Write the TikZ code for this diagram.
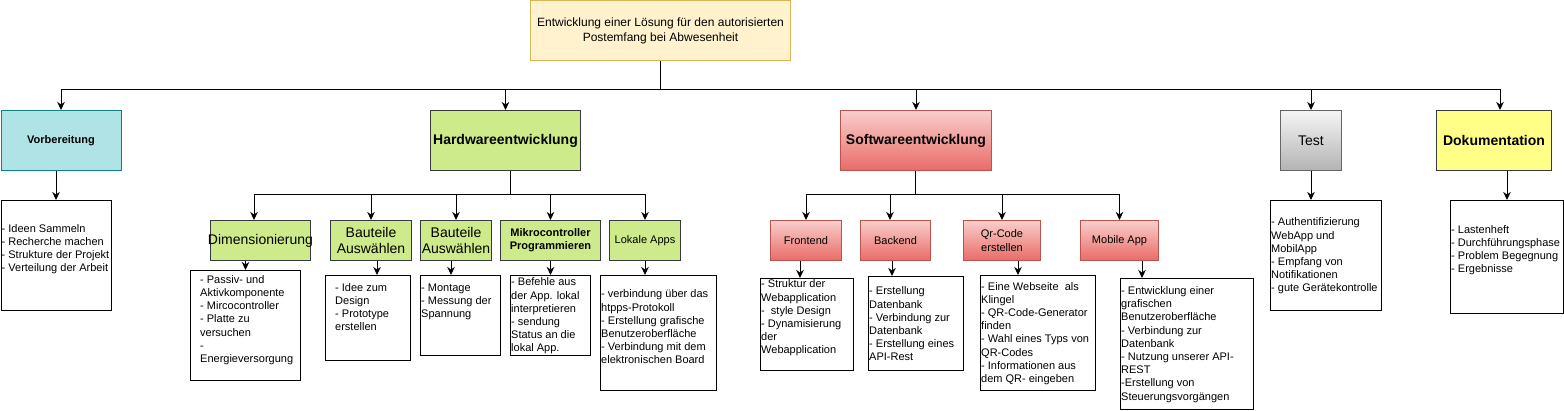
\documentclass[tikz,border=0pt]{standalone}
\usepackage{fontspec}
\setmainfont{Liberation Sans}
\usetikzlibrary{arrows.meta}
\definecolor{rootfill}{HTML}{FFF2CC}
\definecolor{rootdraw}{HTML}{D6B656}
\definecolor{tealfill}{HTML}{B0E3E6}
\definecolor{tealdraw}{HTML}{0E8088}
\definecolor{greenfill}{HTML}{CDEB8B}
\definecolor{darkdraw}{HTML}{36393D}
\definecolor{redtop}{HTML}{F8CECC}
\definecolor{redbot}{HTML}{EA6B66}
\definecolor{reddraw}{HTML}{B85450}
\definecolor{graytop}{HTML}{F5F5F5}
\definecolor{graybot}{HTML}{B3B3B3}
\definecolor{graydraw}{HTML}{666666}
\definecolor{yellowfill}{HTML}{FFFF88}
\tikzset{
  arr/.style={-{Stealth[length=8pt,width=7.5pt,inset=2.5pt]}, line width=1pt},
  conn/.style={line width=1pt},
  box/.style={draw, line width=1pt, inner sep=1pt, align=center, anchor=north west},
  greenbox/.style={box, fill=greenfill, draw=darkdraw},
  redbox/.style={box, top color=redtop, bottom color=redbot, draw=reddraw},
  dbox/.style={draw=black, line width=1pt, anchor=north west, inner sep=0pt},
  dtext/.style={anchor=west, align=left, inner sep=0pt, font=\fontsize{11}{13.2}\selectfont},
  fsmall/.style={font=\fontsize{11}{13.2}\selectfont},
  fsmallb/.style={font=\fontsize{11}{13.2}\selectfont\bfseries},
  fbig/.style={font=\fontsize{14}{16.8}\selectfont},
  fbigb/.style={font=\fontsize{14}{16.8}\selectfont\bfseries}
}
\begin{document}
\begin{tikzpicture}[x=1pt,y=-1pt]
\useasboundingbox (0,0) rectangle (1564,411);

% root
\node[box, fill=rootfill, draw=rootdraw, minimum width=260pt, minimum height=60pt, inner xsep=0pt,
      font=\fontsize{12}{14.4}\selectfont] (root) at (530,0.5)
  {Entwicklung einer Lösung für den autorisierten\\Postemfang bei Abwesenheit};

% level 1
\node[box, fill=tealfill, draw=tealdraw, minimum width=120pt, minimum height=60pt, fsmallb] (vorb) at (0.5,110) {Vorbereitung};
\node[greenbox, minimum width=150pt, minimum height=60pt, fbigb] (hw) at (430,110) {Hardwareentwicklung};
\node[redbox, minimum width=151pt, minimum height=60pt, fbigb] (sw) at (840,110) {Softwareentwicklung};
\node[box, top color=graytop, bottom color=graybot, draw=graydraw, minimum width=61pt, minimum height=60pt, fbig] (test) at (1280,110) {Test};
\node[box, fill=yellowfill, draw=darkdraw, minimum width=115pt, minimum height=60pt, fbigb] (doku) at (1436,110) {Dokumentation};

% hardware subs
\node[greenbox, minimum width=100pt, minimum height=40pt, fbig, inner xsep=-3pt] (dim) at (210,220) {Dimensionierung};
\node[greenbox, minimum width=81pt, minimum height=40pt, fbig] (bt1) at (330,220) {Bauteile\\Auswählen};
\node[greenbox, minimum width=71pt, minimum height=40pt, fbig, inner xsep=0pt] (bt2) at (420,220) {Bauteile\\Auswählen};
\node[greenbox, minimum width=100pt, minimum height=40pt, fsmallb] (mik) at (500,220) {Mikrocontroller\\Programmieren};
\node[greenbox, minimum width=71pt, minimum height=40pt, fsmall] (lok) at (609,220) {Lokale Apps};

% software subs
\node[redbox, minimum width=71pt, minimum height=40pt, fsmall] (fe) at (770,220) {Frontend};
\node[redbox, minimum width=70pt, minimum height=40pt, fsmall] (be) at (860,220) {Backend};
\node[redbox, minimum width=77pt, minimum height=40pt, fsmall] (qr) at (963,220) {Qr-Code\\erstellen};
\node[redbox, minimum width=78pt, minimum height=40pt, fsmall] (ma) at (1080,220) {Mobile App};

% detail boxes
\node[dbox, minimum width=110pt, minimum height=110pt] (vd) at (0.5,200) {};
\node[dtext] (vdt) at (1.5,249) {- Ideen Sammeln\\- Recherche machen\\- Strukture der Projekt\\- Verteilung der Arbeit};

\node[dbox, minimum width=110pt, minimum height=110pt] (dd) at (190,270) {};
\node[dtext] (ddt) at (200,320) {- Passiv- und\\Aktivkomponente\\- Mircocontroller\\- Platte zu\\versuchen\\-\\Energieversorgung};

\node[dbox, minimum width=85pt, minimum height=85pt] (b1d) at (325,275) {};
\node[dtext] (b1dt) at (335,307) {- Idee zum\\Design\\- Prototype\\erstellen};

\node[dbox, minimum width=80pt, minimum height=80pt] (b2d) at (420,275) {};
\node[dtext] (b2dt) at (421,302) {- Montage\\- Messung der\\Spannung};

\node[dbox, minimum width=80pt, minimum height=80pt] (md) at (510,275) {};
\node[dtext] (mdt) at (511,316) {- Befehle aus\\der App. lokal\\interpretieren\\- sendung\\Status an die\\lokal App.};

\node[dbox, minimum width=116pt, minimum height=115pt] (ld) at (600,275) {};
\node[dtext] (ldt) at (601,327) {- verbindung über das\\htpps-Protokoll\\- Erstellung grafische\\Benutzeroberfläche\\- Verbindung mit dem\\elektronischen Board};

\node[dbox, minimum width=93pt, minimum height=92pt] (fd) at (760,278) {};
\node[dtext] (fdt) at (761,318) {- Struktur der\\Webapplication\\-\ \ style Design\\- Dynamisierung\\der\\Webapplication};

\node[dbox, minimum width=95pt, minimum height=94pt] (bd) at (868,276) {};
\node[dtext] (bdt) at (869,324) {- Erstellung\\Datenbank\\- Verbindung zur\\Datenbank\\- Erstellung eines\\API-Rest};

\node[dbox, minimum width=115pt, minimum height=115pt] (qd) at (980,275) {};
\node[dtext] (qdt) at (981,333.5) {- Eine Webseite\ \ als\\Klingel\\- QR-Code-Generator\\finden\\- Wahl eines Typs von\\QR-Codes\\- Informationen aus\\dem QR- eingeben};

\node[dbox, minimum width=133pt, minimum height=131pt] (mad) at (1120,278) {};
\node[dtext] (madt) at (1121,344.5) {- Entwicklung einer\\grafischen\\Benutzeroberfläche\\- Verbindung zur\\Datenbank\\- Nutzung unserer API-\\REST\\-Erstellung von\\Steuerungsvorgängen};

\node[dbox, minimum width=111pt, minimum height=110pt] (td) at (1270,200) {};
\node[dtext] (tdt) at (1271,256) {- Authentifizierung\\WebApp und\\MobilApp\\- Empfang von\\Notifikationen\\- gute Gerätekontrolle};

\node[dbox, minimum width=113pt, minimum height=113pt] (dkd) at (1450,200) {};
\node[dtext] (dkdt) at (1451,250) {- Lastenheft\\- Durchführungsphase\\- Problem Begegnung\\- Ergebnisse};

% top bus
\coordinate (tb) at (660,90);
\draw[conn] (root.south -| tb) -- (tb);
\draw[arr] (tb) -| (vorb.north);
\draw[arr] (tb) -| (hw.north);
\draw[arr] (tb) -| (sw.north);
\draw[arr] (tb) -| (test.north);
\draw[arr] (tb) -| (doku.north -| 1500,0);

% hardware bus
\coordinate (hb) at (510,195);
\draw[conn] (hw.south -| hb) -- (hb);
\draw[arr] (hb) -| (dim.north -| 254,0);
\draw[arr] (hb) -| (bt1.north);
\draw[arr] (hb) -| (bt2.north);
\draw[arr] (hb) -| (mik.north);
\draw[arr] (hb) -| (lok.north);

% software bus
\coordinate (sb) at (915,195);
\draw[conn] (sw.south -| sb) -- (sb);
\draw[arr] (sb) -| (fe.north);
\draw[arr] (sb) -| (be.north -| 890,0);
\draw[arr] (sb) -| (qr.north);
\draw[arr] (sb) -| (ma.north);

% to detail boxes
\draw[arr] (vorb.south -| vd.north) -- (vd.north);
\draw[arr] (dim.south -| dd.north) -- (dd.north);
\draw[arr] (bt1.south -| 377,0) -- (b1d.north -| 377,0);
\draw[arr] (bt2.south -| 451,0) -- (b2d.north -| 451,0);
\draw[arr] (mik.south -| md.north) -- (md.north);
\draw[arr] (lok.south) -- (ld.north -| lok.south);
\draw[arr] (fe.south -| 800,0) -- (fd.north -| 800,0);
\draw[arr] (be.south -| 892,0) -- (bd.north -| 892,0);
\draw[arr] (qr.south -| 1018,0) -- (qd.north -| 1018,0);
\draw[arr] (ma.south -| 1142,0) -- (mad.north -| 1142,0);
\draw[arr] (test.south) -- (td.north -| test.south);
\draw[arr] (doku.south -| dkd.north) -- (dkd.north);
\end{tikzpicture}
\end{document}
